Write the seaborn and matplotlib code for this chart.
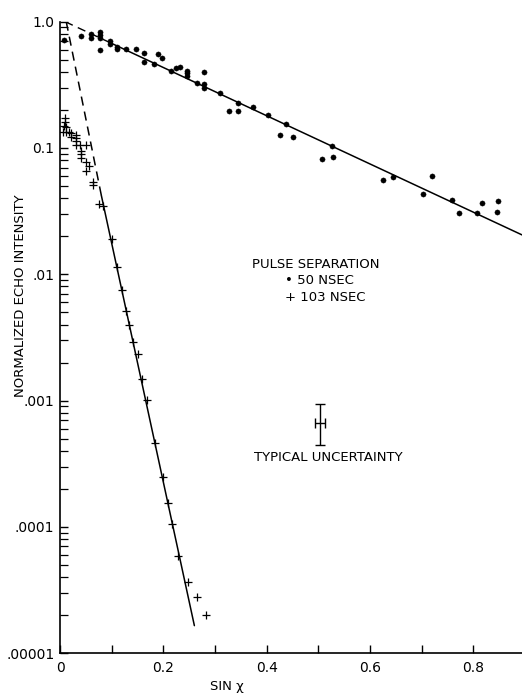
import numpy as np
import pandas as pd
import matplotlib
matplotlib.use("Agg")
import matplotlib.pyplot as plt
import matplotlib.ticker as mticker
import seaborn as sns

# ---- data ----
x_50 = [0.008, 0.040, 0.060, 0.060, 0.077, 0.077, 0.077, 0.077, 0.097, 0.097,
        0.110, 0.110, 0.128, 0.147, 0.163, 0.163, 0.182, 0.189, 0.197, 0.215,
        0.224, 0.232, 0.245, 0.245, 0.245, 0.266, 0.279, 0.279, 0.279, 0.309,
        0.327, 0.344, 0.344, 0.373, 0.403, 0.426, 0.438, 0.451, 0.507, 0.527,
        0.529, 0.625, 0.644, 0.702, 0.719, 0.759, 0.772, 0.807, 0.816, 0.845,
        0.848]
y_50 = [0.71, 0.77, 0.80, 0.74, 0.83, 0.79, 0.74, 0.60, 0.70, 0.67,
        0.63, 0.61, 0.61, 0.61, 0.57, 0.48, 0.46, 0.55, 0.52, 0.41,
        0.43, 0.44, 0.41, 0.39, 0.37, 0.33, 0.40, 0.32, 0.30, 0.275,
        0.197, 0.227, 0.195, 0.21, 0.183, 0.127, 0.155, 0.122, 0.082, 0.103,
        0.085, 0.056, 0.059, 0.0434, 0.0605, 0.0384, 0.0305, 0.0305, 0.0366, 0.031,
        0.038]

x_103 = [0.010, 0.010, 0.007, 0.011, 0.006, 0.011, 0.017, 0.021, 0.021, 0.031,
         0.031, 0.031, 0.031, 0.039, 0.051, 0.040, 0.040, 0.041, 0.051, 0.057,
         0.050, 0.064, 0.064, 0.075, 0.083, 0.100, 0.110, 0.119, 0.128, 0.134,
         0.142, 0.150, 0.159, 0.168, 0.184, 0.199, 0.208, 0.216, 0.229, 0.248,
         0.266, 0.282]
y_103 = [0.173, 0.160, 0.149, 0.147, 0.135, 0.135, 0.135, 0.131, 0.123, 0.127,
         0.120, 0.113, 0.106, 0.106, 0.106, 0.094, 0.089, 0.083, 0.078, 0.072,
         0.066, 0.054, 0.051, 0.036, 0.035, 0.019, 0.0114, 0.0075, 0.0051, 0.0040,
         0.0029, 0.00233, 0.00148, 0.00101, 0.000464, 0.000249, 0.000155, 0.000106, 0.000059, 0.0000363,
         0.0000279, 0.0000200]

# fitted lines (dashed extrapolation + solid fit)
fit50_dash_x = [0.01, 0.10]
fit50_dash_y = [1.0, 0.673]
fit50_x = [0.10, 0.894]
fit50_y = [0.673, 0.0205]
fit103_dash_x = [0.012, 0.08]
fit103_dash_y = [1.0, 0.042]
fit103_x = [0.08, 0.26]
fit103_y = [0.042, 0.0000165]

# typical uncertainty bar
unc_x = [0.503]
unc_y = [6.7e-4]
unc_yerr_low = [2.25e-4]
unc_yerr_high = [2.7e-4]
unc_xerr = [0.01]

x_ticks = [0, 0.1, 0.2, 0.3, 0.4, 0.5, 0.6, 0.7, 0.8]
x_labels = ["0", "", "0.2", "", "0.4", "", "0.6", "", "0.8"]
y_ticks = [1e-5, 1e-4, 1e-3, 1e-2, 1e-1, 1.0]
y_labels = [".00001", ".0001", ".001", ".01", "0.1", "1.0"]

# ---- plot ----
sns.set_style("ticks")
plt.rcParams["font.family"] = ["DejaVu Sans"]
plt.rcParams["text.color"] = "black"
plt.rcParams["axes.labelcolor"] = "black"
plt.rcParams["xtick.color"] = "black"
plt.rcParams["ytick.color"] = "black"

fig = plt.figure(figsize=(5.22, 7.0), dpi=100)
ax = fig.add_axes([0.115, 0.067, 0.885, 0.902])

df50 = pd.DataFrame({"x": x_50, "y": y_50})
df103 = pd.DataFrame({"x": x_103, "y": y_103})

sns.scatterplot(data=df50, x="x", y="y", ax=ax, color="black", marker="o",
                s=14, edgecolor="black", linewidth=0.3, zorder=3)
sns.scatterplot(data=df103, x="x", y="y", ax=ax, color="black", marker="+",
                s=30, linewidth=0.9, zorder=3)

sns.lineplot(x=fit50_dash_x, y=fit50_dash_y, ax=ax, color="black",
             linewidth=1.0, linestyle=(0, (6, 4)))
sns.lineplot(x=fit50_x, y=fit50_y, ax=ax, color="black", linewidth=1.1)
sns.lineplot(x=fit103_dash_x, y=fit103_dash_y, ax=ax, color="black",
             linewidth=1.1, linestyle=(0, (6, 4)))
sns.lineplot(x=fit103_x, y=fit103_y, ax=ax, color="black", linewidth=1.1)

ax.errorbar(unc_x, unc_y, yerr=[unc_yerr_low, unc_yerr_high], xerr=unc_xerr,
            fmt="none", ecolor="black", elinewidth=1.0, capsize=3.5, capthick=1.0)

ax.set_yscale("log")
ax.set_xlim(0, 0.894)
ax.set_ylim(1e-5, 1.0)

ax.set_xticks(x_ticks)
ax.set_xticklabels(x_labels, fontsize=10)
ax.set_yticks(y_ticks)
ax.set_yticklabels(y_labels, fontsize=10)
ax.yaxis.set_minor_locator(mticker.LogLocator(base=10, subs=np.arange(2, 10)))
ax.yaxis.set_minor_formatter(mticker.NullFormatter())

ax.tick_params(axis="both", which="major", direction="in", length=6, width=1.0,
               pad=4, colors="black")
ax.tick_params(axis="y", which="minor", direction="in", length=6, width=0.9)
ax.tick_params(axis="x", pad=6)

sns.despine(ax=ax)
for s in ["left", "bottom"]:
    ax.spines[s].set_linewidth(1.2)
    ax.spines[s].set_color("black")

ax.set_xlabel("SIN χ", fontsize=9.5)
ax.set_ylabel("NORMALIZED ECHO INTENSITY", fontsize=9.5)
ax.xaxis.set_label_coords(0.361, -0.043)
ax.yaxis.set_label_coords(-0.072, 0.566)

ax.text(0.554, 0.616, "PULSE SEPARATION", transform=ax.transAxes,
        ha="center", va="center", fontsize=9.5)
ax.text(0.487, 0.590, "• 50 NSEC", transform=ax.transAxes,
        ha="left", va="center", fontsize=9.5)
ax.text(0.487, 0.563, "+ 103 NSEC", transform=ax.transAxes,
        ha="left", va="center", fontsize=9.5)
ax.text(0.580, 0.309, "TYPICAL UNCERTAINTY", transform=ax.transAxes,
        ha="center", va="center", fontsize=9.5)

fig.savefig("out.png", dpi=100, facecolor="white")
